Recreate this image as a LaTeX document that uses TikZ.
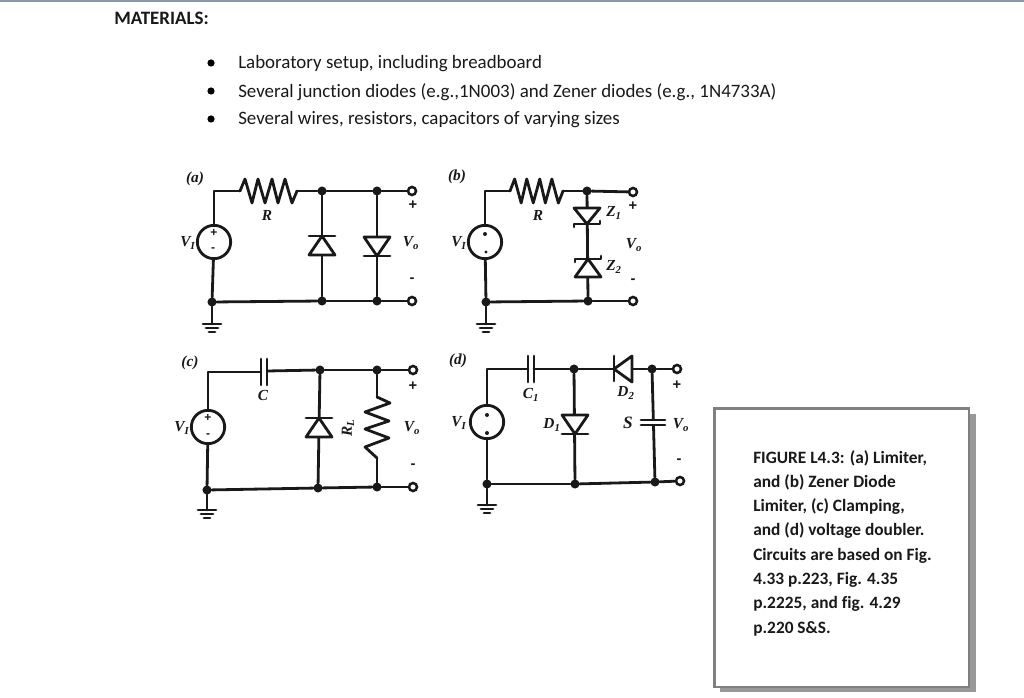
\documentclass[tikz,border=0pt]{standalone}
\usepackage{fontspec}
\setmainfont[Ligatures=NoCommon]{Carlito}
\newfontfamily\labfont{Liberation Serif}
\newfontfamily\signfont{Liberation Sans}
\definecolor{topline}{HTML}{8C98A4}
\begin{document}
\begin{tikzpicture}[x=0.75pt,y=-0.75pt,
  wire/.style={line width=2.1pt,line cap=round,line join=round,black!90},
  dotn/.style={circle,fill=black!90,inner sep=0pt,minimum size=6.8pt},
  term/.style={circle,draw=black!90,fill=white,line width=1.9pt,inner sep=0pt,minimum size=6pt},
  src/.style={circle,draw=black!90,fill=white,line width=2.1pt,inner sep=0pt,minimum size=25pt},
  lab/.style={inner sep=0pt,font=\labfont\bfseries\itshape\fontsize{11.5}{12}\selectfont,black!90},
  sign/.style={inner sep=0pt,font=\signfont\bfseries\fontsize{11}{11}\selectfont,black!90},
  smallsign/.style={inner sep=0pt,font=\signfont\bfseries\fontsize{9}{9}\selectfont,black!90},
  body/.style={inner sep=0pt,anchor=west,font=\fontsize{14.2}{16}\selectfont,text=black!90},
  bullet/.style={circle,fill=black,inner sep=0pt,minimum size=5.4pt},
  hres/.pic={\draw[wire] (0,0)--(5,-12)--(12,12)--(18,-12)--(25,12)--(32,-12)--(38,12)--(45,-12)--(52,12)--(57,0);},
  vres/.pic={\draw[wire] (0,0)--(13,6)--(-12,15)--(12,24)--(-12,32)--(12,41)--(-12,50)--(0,61);},
  dup/.pic={\draw[wire,fill=white] (0,0)--(13,19)--(-13,19)--cycle;\draw[wire] (-13,0)--(13,0);},
  ddown/.pic={\draw[wire,fill=white] (0,0)--(13,-19)--(-13,-19)--cycle;\draw[wire] (-13,0)--(13,0);},
  dleft/.pic={\draw[wire,fill=white] (0,0)--(18,-13)--(18,13)--cycle;\draw[wire] (0,-13)--(0,12);},
  zdown/.pic={\draw[wire,fill=white] (0,0)--(13,-16)--(-13,-16)--cycle;\draw[wire] (-13,3)--(-13,0)--(13,0)--(13,-3);},
  zup/.pic={\draw[wire,fill=white] (0,0)--(13,18)--(-13,18)--cycle;\draw[wire] (-13,3)--(-13,0)--(13,0)--(13,-3);},
  gnd/.pic={\draw[wire] (-9,0)--(9,0) (-6,4)--(6,4) (-3,8)--(3,8);},
  vcap/.pic={\draw[wire] (0,-13)--(0,13) (6,-13)--(6,13);},
  hcap/.pic={\draw[wire] (-12,0)--(12,0) (-12,5)--(12,5);}
]
\useasboundingbox (0,0) rectangle (1024,698);
\fill[white] (0,0) rectangle (1024,698);
\fill[topline] (0,0) rectangle (1024,1.6);

% ---------- header text
\node[inner sep=0pt,anchor=west,font=\bfseries\fontsize{14.2}{16}\selectfont,text=black!90] (title) at (114,18) {MATERIALS:};
\node[bullet] (b1) at (211,63) {};
\node[bullet] (b2) at (211,91) {};
\node[bullet] (b3) at (211,119) {};
\node[body] (t1) at (238,64) {Laboratory setup, including breadboard};
\node[body] (t2) at (238,92) {Several junction diodes (e.g.,1N003) and Zener diodes (e.g., 1N4733A)};
\node[body] (t3) at (238,120) {Several wires, resistors, capacitors of varying sizes};

% ---------- caption box
\fill[black!40] (720,414) rectangle (976,692);
\node[draw=black!50,fill=white,line width=2pt,minimum width=191pt,minimum height=209pt,inner sep=0pt] (box) at (841.5,547.5) {};
\node[inner sep=0pt,anchor=north west,align=left,font=\bfseries\fontsize{13}{18.2}\selectfont,text=black!90] (cap) at (753,450)
 {FIGURE L4.3: (a) Limiter,\\and (b) Zener Diode\\Limiter, (c) Clamping,\\and (d) voltage doubler.\\Circuits are based on Fig.\\4.33 p.223, Fig. 4.35\\p.2225, and fig. 4.29\\p.220 S\&S.};

% ---------- circuit (a)
\node[src] (aV) at (214,242) {};
\node[dotn] (a1) at (322,191) {};
\node[dotn] (a2) at (377,191) {};
\node[term] (a3) at (412,191) {};
\node[dotn] (a4) at (212,302) {};
\node[dotn] (a5) at (322,301) {};
\node[dotn] (a6) at (377,301) {};
\node[term] (a7) at (412,301) {};
\coordinate (aRl) at (240,191);
\coordinate (aRr) at (297,191);
\coordinate (aG) at (212,324);
\draw[wire] (aV) |- (aRl);
\draw[wire] (aRr) -- (a1);
\draw[wire] (a1) -- (a2);
\draw[wire] (a2) -- (a3);
\draw[wire] (aV) -- (a4);
\draw[wire] (a4) -- (a5);
\draw[wire] (a5) -- (a6);
\draw[wire] (a6) -- (a7);
\draw[wire] (a4) -- (aG);
\draw[wire] (a1) -- (a5);
\draw[wire] (a2) -- (a6);
\pic at (aRl) {hres};
\pic at (322,236) {dup};
\pic at (377,256) {ddown};
\pic at (aG) {gnd};
\node[lab] (ala) at (195,179) {(a)};
\node[lab] (aR) at (267,215) {R};
\node[lab] (aVi) at (188,243) {V\textsubscript{I}};
\node[lab] (aVo) at (411,243) {V\textsubscript{o}};
\node[sign] (ap) at (413,205) {+};
\node[sign] (am) at (412,280) {-};
\node[smallsign] (aVp) at (214,233) {+};
\node[smallsign] (aVm) at (213,250) {-};

% ---------- circuit (b)
\node[src] (bV) at (485,242) {};
\node[dotn] (b1n) at (587,191) {};
\node[term] (b2n) at (633,192) {};
\node[dotn] (b3n) at (486,302) {};
\node[dotn] (b4n) at (588,301) {};
\node[term] (b5n) at (633,301) {};
\coordinate (bRl) at (510,191);
\coordinate (bRr) at (563,191);
\coordinate (bG) at (486,324);
\draw[wire] (bV) |- (bRl);
\draw[wire] (bRr) -- (b1n);
\draw[wire] (b1n) -- (b2n);
\draw[wire] (bV) -- (b3n);
\draw[wire] (b3n) -- (b4n);
\draw[wire] (b4n) -- (b5n);
\draw[wire] (b3n) -- (bG);
\draw[wire] (b1n) -- (b4n);
\pic[xscale=.93] at (bRl) {hres};
\pic at (587,224) {zdown};
\pic at (588,259) {zup};
\pic at (bG) {gnd};
\node[lab] (bla) at (457,177) {(b)};
\node[lab] (bR) at (538,215) {R};
\node[lab] (bVi) at (459,243) {V\textsubscript{I}};
\node[lab] (bVo) at (634,245) {V\textsubscript{o}};
\node[lab] (bZ1) at (614,213) {Z\textsubscript{1}};
\node[lab] (bZ2) at (614,267) {Z\textsubscript{2}};
\node[sign] (bp) at (633,206) {+};
\node[sign] (bm) at (633,281) {-};
\node[dotn,minimum size=3pt] (bVp) at (485,234) {};
\node[dotn,minimum size=2.5pt] (bVm) at (486,252) {};

% ---------- circuit (c)
\node[src] (cV) at (208,427) {};
\node[dotn] (c1) at (320,370) {};
\node[dotn] (c2) at (377,370) {};
\node[term] (c3) at (413,370) {};
\node[dotn] (c4) at (207,490) {};
\node[dotn] (c5) at (318,488) {};
\node[dotn] (c6) at (377,487) {};
\node[term] (c7) at (413,487) {};
\coordinate (cCl) at (261,372);
\coordinate (cCr) at (267,371);
\coordinate (cRt) at (377,397);
\coordinate (cRb) at (377,458);
\coordinate (cG) at (207,510);
\draw[wire] (cV) |- (cCl);
\draw[wire] (cCr) -- (c1);
\draw[wire] (c1) -- (c2);
\draw[wire] (c2) -- (c3);
\draw[wire] (cV) -- (c4);
\draw[wire] (c4) -- (c5);
\draw[wire] (c5) -- (c6);
\draw[wire] (c6) -- (c7);
\draw[wire] (c4) -- (cG);
\draw[wire] (c1) -- (c5);
\draw[wire] (c2) -- (cRt);
\draw[wire] (cRb) -- (c6);
\pic at (cRt) {vres};
\pic at (261,372) {vcap};
\pic at (319,418) {dup};
\pic at (cG) {gnd};
\node[lab] (cla) at (190,363) {(c)};
\node[lab] (cC) at (263,395) {C};
\node[lab,rotate=90] (cRL) at (348,428) {R\textsubscript{L}};
\node[lab] (cVi) at (182,428) {V\textsubscript{I}};
\node[lab] (cVo) at (412,428) {V\textsubscript{o}};
\node[sign] (cp) at (413,386) {+};
\node[sign] (cm) at (413,466) {-};
\node[smallsign] (cVp) at (208,418) {+};
\node[smallsign] (cVm) at (208,436) {-};

% ---------- circuit (d)
\node[src] (dV) at (487,422) {};
\node[dotn] (d1) at (574,369) {};
\node[dotn] (d2) at (652,369) {};
\node[term] (d3) at (677,369) {};
\node[dotn] (d4) at (487,484) {};
\node[dotn] (d5) at (575,484) {};
\node[dotn] (d6) at (655,482) {};
\node[term] (d7) at (680,481) {};
\coordinate (dCl) at (528,369);
\coordinate (dCr) at (534,369);
\coordinate (dG) at (487,505);
\draw[wire] (dV) |- (dCl);
\draw[wire] (dCr) -- (d1);
\draw[wire] (d1) -- (d2);
\draw[wire] (d2) -- (d3);
\draw[wire] (dV) -- (d4);
\draw[wire] (d4) -- (d5);
\draw[wire] (d5) -- (d6);
\draw[wire] (d6) -- (d7);
\draw[wire] (d4) -- (dG);
\draw[wire] (d1) -- (d5);
\draw[wire] (d2) -- (d6);
\fill[white] (638,421) rectangle (668,424.5);
\pic at (528,369) {vcap};
\pic at (614,369) {dleft};
\pic at (575,434) {ddown};
\pic at (653,420) {hcap};
\pic at (dG) {gnd};
\node[lab] (dla) at (458,361) {(d)};
\node[lab] (dC1) at (531,395) {C\textsubscript{1}};
\node[lab] (dD2) at (626,393) {D\textsubscript{2}};
\node[lab] (dD1) at (552,425) {D\textsubscript{1}};
\node[lab,font=\labfont\bfseries\itshape\fontsize{13}{13}\selectfont] (dC2) at (628,423) {S};
\node[lab] (dVi) at (459,423) {V\textsubscript{I}};
\node[lab] (dVo) at (681,425) {V\textsubscript{o}};
\node[sign] (dp) at (677,385) {+};
\node[sign] (dm) at (679,461) {-};
\node[dotn,minimum size=3pt] (dVp) at (487,415) {};
\node[dotn,minimum size=3pt] (dVm) at (487,433) {};
\end{tikzpicture}
\end{document}
